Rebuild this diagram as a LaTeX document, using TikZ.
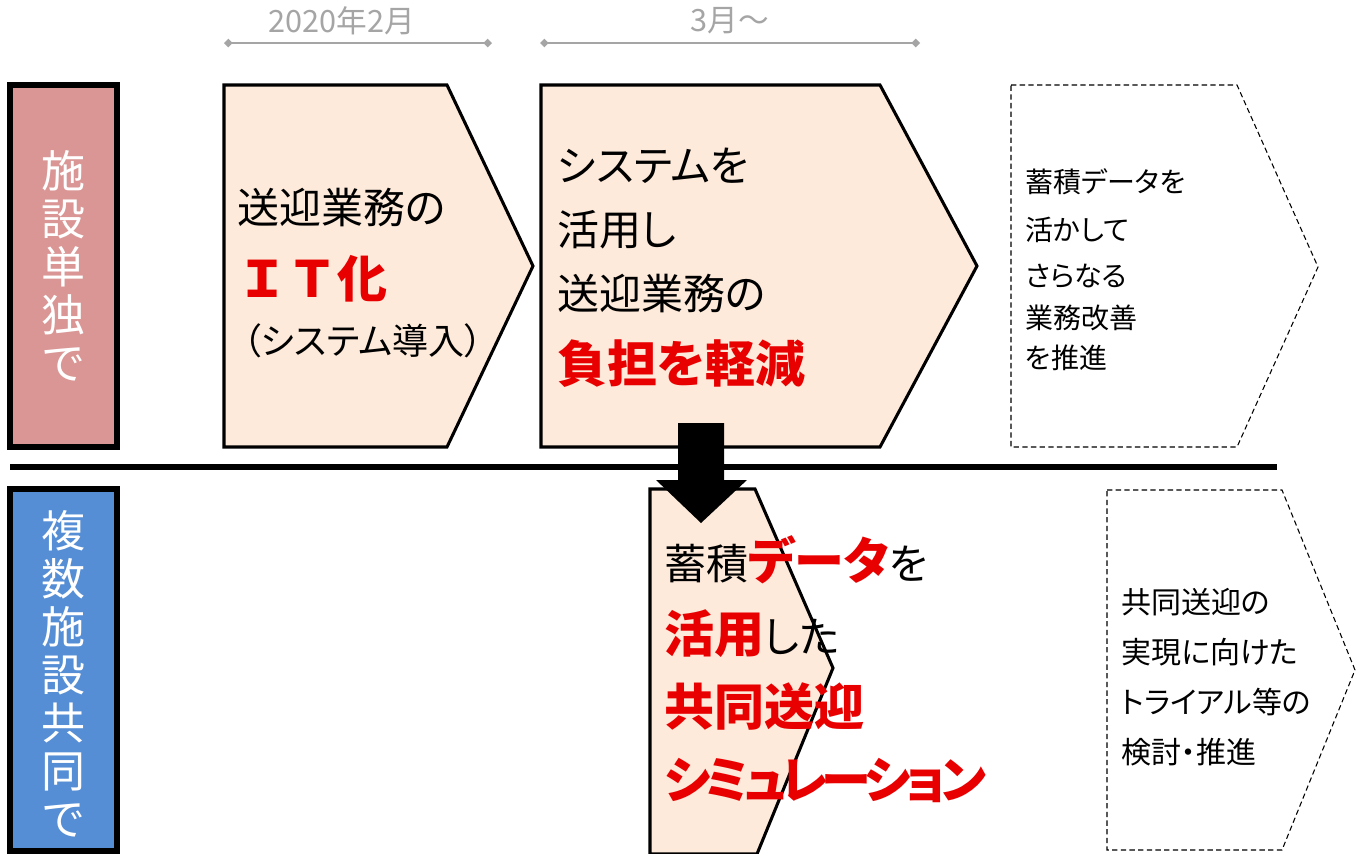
\documentclass[tikz,border=0pt]{standalone}
\usepackage{fontspec}
\usetikzlibrary{arrows.meta}
\newfontfamily\jp{Noto Sans CJK JP}[RawFeature=+palt]
\newfontfamily\jpf{Noto Sans CJK JP}
\definecolor{pinkfill}{HTML}{D99694}
\definecolor{bluefill}{HTML}{558ED5}
\definecolor{peach}{HTML}{FDEADA}
\definecolor{tlgray}{RGB}{165,165,165}
\definecolor{hired}{RGB}{232,0,0}
\tikzset{
  chev/.style={fill=peach, draw=black, line width=2.3pt, line join=miter},
  dchev/.style={draw=black, line width=0.8pt, dash pattern=on 4pt off 2.5pt},
  lab/.style={draw=black, line width=4pt},
  vlab/.style={text=white, align=center, inner sep=0, font=\jp\fontsize{33}{36}\selectfont},
  txt/.style={anchor=west, inner sep=0, font=\jp\fontsize{31.5}{31.5}\selectfont},
  smalltxt/.style={anchor=west, inner sep=0, font=\jp\fontsize{21}{21}\selectfont},
  midtxt/.style={anchor=west, inner sep=0, font=\jp\fontsize{22.5}{22.5}\selectfont},
  em/.style={anchor=west, inner sep=0, text=hired, font=\jp\bfseries\fontsize{37.5}{37.5}\selectfont},
  tl/.style={draw=tlgray, line width=1.3pt, {Turned Square[length=6.5pt,width=6.5pt]}-{Turned Square[length=6.5pt,width=6.5pt]}},
  tltxt/.style={text=tlgray, inner sep=0, font=\jp\fontsize{23}{23}\selectfont}
}
\newcommand{\bem}[1]{{\color{hired}\bfseries\fontsize{37.5}{37.5}\selectfont #1}}
\newcommand{\kk}{\kern-4.2pt}
\begin{document}
\begin{tikzpicture}[x=0.75pt,y=-0.75pt]
\useasboundingbox[fill=white] (0,0) rectangle (1365,854);

% timelines
\coordinate (t1a) at (224,43); \coordinate (t1b) at (492,43);
\coordinate (t2a) at (540,43); \coordinate (t2b) at (920,43);
\draw[tl] (t1a) -- (t1b);
\draw[tl] (t2a) -- (t2b);
\node[tltxt] (tl1) at (342,21) {2020年2月};
\node[tltxt] (tl2) at (730,21) {3月～};

% row labels
\draw[lab, fill=pinkfill] (10,85) rectangle (117,447);
\node[vlab] (lab1) at (63,266) {施\\設\\単\\独\\で};
\draw[lab, fill=bluefill] (10,489) rectangle (117,851);
\node[vlab] (lab2) at (63,674) {複\\数\\施\\設\\共\\同\\で};

% upper chevrons
\draw[chev] (224,85) -- (447,85) -- (533,266) -- (447,447) -- (224,447) -- cycle;
\draw[chev] (541,85) -- (880,85) -- (977,266) -- (880,447) -- (541,447) -- cycle;
\draw[dchev] (1011,85) -- (1237,85) -- (1318,267) -- (1237,447) -- (1011,447) -- cycle;

% divider
\coordinate (dl) at (10,467); \coordinate (dr) at (1277,467);
\draw[line width=4.5pt] (dl) -- (dr);

% lower chevrons
\draw[chev] (650,489) -- (755,489) -- (833,668) -- (757,854) -- (650,854) -- cycle;
\draw[dchev] (1107,490) -- (1282,490) -- (1355,670) -- (1282,850) -- (1107,850) -- cycle;

% down arrow
\fill[black] (678,423) -- (724,423) -- (724,480) -- (747,480) -- (701,523) -- (656,480) -- (678,480) -- cycle;

% texts box 2
\node[txt] (b2a) at (237,207) {送迎業務の};
\node[em, font=\jpf\bfseries\fontsize{37.5}{37.5}\selectfont] (b2b) at (237,279) {ＩＴ化};
\node[txt, font=\jp\fontsize{27}{27}\selectfont] (b2c) at (243,341) {（システム導入）};

% texts box 3
\node[txt] (b3a) at (557,166) {システムを};
\node[txt] (b3b) at (557,230) {活用し};
\node[txt] (b3c) at (557,293) {送迎業務の};
\node[em] (b3d) at (557,364) {負担を軽減};

% texts box 4
\node[smalltxt] (b4a) at (1025,182) {蓄積データを};
\node[smalltxt] (b4b) at (1025,230) {活かして};
\node[smalltxt] (b4c) at (1025,276) {さらなる};
\node[smalltxt] (b4d) at (1025,318) {業務改善};
\node[smalltxt] (b4e) at (1025,358) {を推進};

% texts box 5
\node[txt] (b5a) at (664,560) {蓄積\bem{データ}を};
\node[txt] (b5b) at (664,634) {\bem{活用}した};
\node[em] (b5c) at (664,706) {共同送迎};
\node[em] (b5d) at (664,780) {シ\kk ミ\kk ュ\kk レ\kk ー\kk シ\kk ョ\kk ン};

% texts box 6
\node[midtxt] (b6a) at (1121,602) {共同送迎の};
\node[midtxt] (b6b) at (1121,652) {実現に向けた};
\node[midtxt] (b6c) at (1121,702) {トライアル等の};
\node[midtxt] (b6d) at (1121,752) {検討・推進};
\end{tikzpicture}
\end{document}
